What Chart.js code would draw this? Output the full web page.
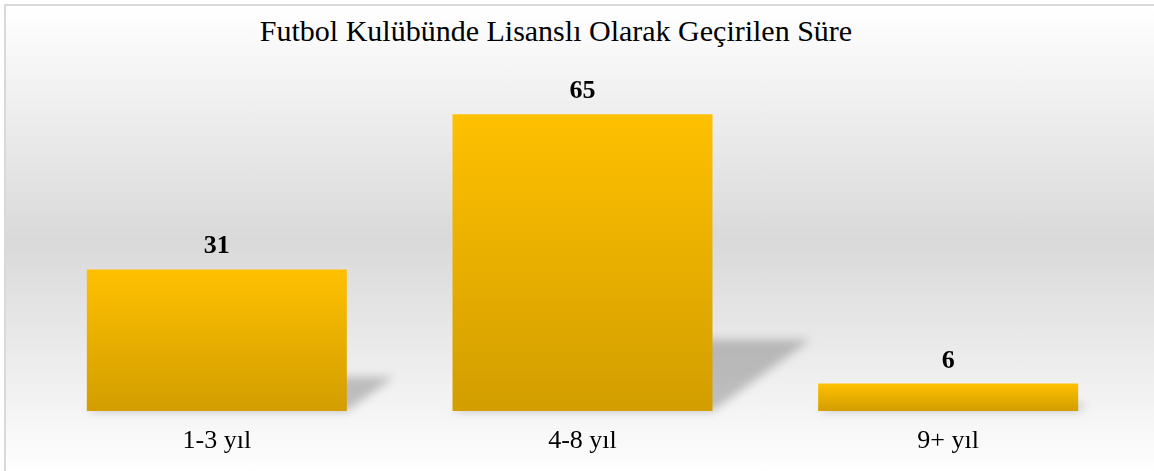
<!DOCTYPE html>
<html lang="tr">
<head>
<meta charset="utf-8">
<title>Futbol Kulübünde Lisanslı Olarak Geçirilen Süre</title>
<script src="https://cdn.jsdelivr.net/npm/chart.js@4/dist/chart.umd.min.js"></script>
<style>
  html, body { margin: 0; padding: 0; background: #fff; overflow: hidden; }
  #frame {
    position: absolute; left: 4px; top: 4px; width: 1160px; height: 470px;
    border: 2px solid #d9d9d9;
    background: linear-gradient(#ffffff 0%, #d9d9d9 50%, #ffffff 100%);
  }
  #title {
    position: absolute; left: 0; width: 1112px; top: 14px;
    text-align: center; font-family: "Liberation Serif", serif; font-size: 30px; color: #000;
  }
  #wrap { position: absolute; left: 0; top: 0; width: 1154px; height: 471px; }
</style>
</head>
<body>
<div id="frame"></div>
<div id="title">Futbol Kulübünde Lisanslı Olarak Geçirilen Süre</div>
<div id="wrap"><canvas id="barras"></canvas></div>
<script>
const categories = ["1-3 yıl", "4-8 yıl", "9+ yıl"];
const values = [31, 65, 6];

// gold gradient for each bar, from its top down to the base
function barGradient(context) {
  const chart = context.chart;
  if (!chart.chartArea) return "#ffc000";
  const yScale = chart.scales.y;
  const top = yScale.getPixelForValue(context.raw);
  const base = yScale.getPixelForValue(0);
  const g = chart.ctx.createLinearGradient(0, top, 0, base);
  g.addColorStop(0, "#ffc000");
  g.addColorStop(1, "#d29e00");
  return g;
}

// slanted soft shadow behind the bars
const barShadow = {
  id: "barShadow",
  beforeDatasetsDraw(chart) {
    const ctx = chart.ctx;
    const meta = chart.getDatasetMeta(0);
    ctx.save();
    ctx.filter = "blur(5px)";
    ctx.fillStyle = "rgba(0,0,0,0.22)";
    meta.data.forEach((bar) => {
      const { x, y, base, width } = bar.getProps(["x", "y", "base", "width"], true);
      const h = base - y;
      const left = x - width / 2;
      const right = x + width / 2;
      ctx.beginPath();
      ctx.moveTo(left, base);
      ctx.lineTo(right, base);
      ctx.lineTo(right + h * 0.33, base - h * 0.24);
      ctx.lineTo(left + h * 0.33, base - h * 0.24);
      ctx.closePath();
      ctx.fill();
    });
    ctx.restore();
  },
};

// value labels above the bars
const valueLabels = {
  id: "valueLabels",
  afterDatasetsDraw(chart) {
    const ctx = chart.ctx;
    const meta = chart.getDatasetMeta(0);
    ctx.save();
    ctx.font = "bold 26px 'Liberation Serif', serif";
    ctx.fillStyle = "#000";
    ctx.textAlign = "center";
    ctx.textBaseline = "alphabetic";
    meta.data.forEach((bar, i) => {
      ctx.fillText(values[i], bar.x, bar.y - 16);
    });
    ctx.restore();
  },
};

new Chart(document.getElementById("barras"), {
  type: "bar",
  data: {
    labels: categories,
    datasets: [
      {
        data: values,
        backgroundColor: barGradient,
        borderWidth: 0,
        categoryPercentage: 1,
        barPercentage: 0.711,
      },
    ],
  },
  options: {
    responsive: true,
    maintainAspectRatio: false,
    animation: false,
    layout: {
      padding: { left: 34, right: 23, top: 0, bottom: 0 },
    },
    plugins: {
      legend: { display: false },
      title: { display: false },
      tooltip: { enabled: false },
    },
    scales: {
      x: {
        grid: { display: false, drawTicks: false },
        border: { display: false },
        ticks: {
          color: "#000",
          padding: 14.4,
          font: { family: "'Liberation Serif', serif", size: 26 },
        },
      },
      y: {
        display: false,
        min: 0,
        max: 90,
      },
    },
  },
  plugins: [barShadow, valueLabels],
});
</script>
</body>
</html>
